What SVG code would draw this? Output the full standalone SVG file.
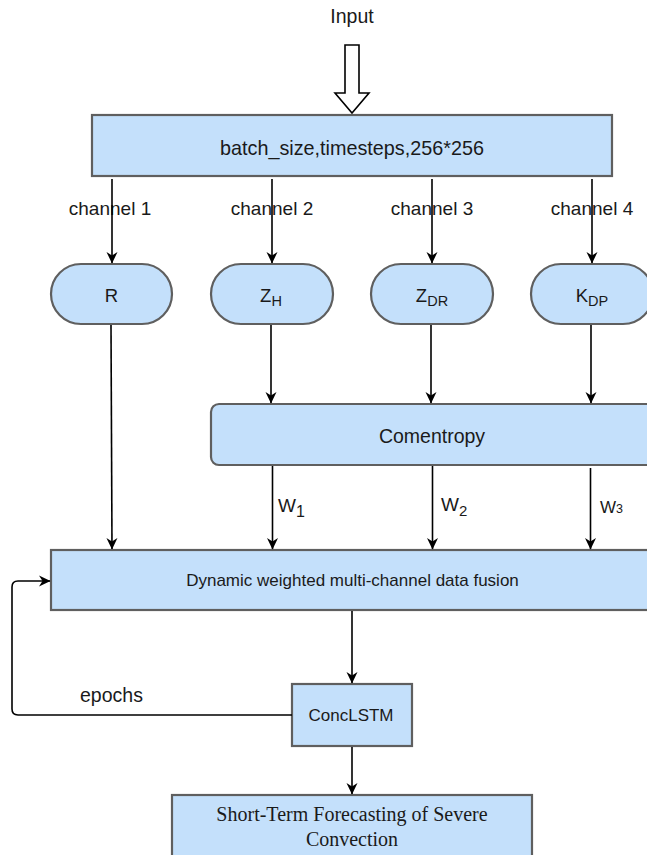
<svg xmlns="http://www.w3.org/2000/svg" width="647" height="855" viewBox="0 0 647 855">
<defs>
<style>
.box{fill:#c4e0fb;stroke:#5f5f5f;stroke-width:2.2}
.t{font-family:"Liberation Sans",Arial,sans-serif;fill:#1a1a1a}
.serif{font-family:"Liberation Serif","Times New Roman",serif;fill:#1a1a1a}
.edge{fill:none;stroke:#000;stroke-width:1.6}
</style>
<marker id="arr" viewBox="0 0 12 12" refX="11" refY="6" markerWidth="12" markerHeight="12" markerUnits="userSpaceOnUse" orient="auto">
<path d="M0,0.5 L11.5,6 L0,11.5 L3.5,6 Z" fill="#000"/>
</marker>
</defs>
<rect width="647" height="855" fill="#fff"/>

<text class="t" x="352" y="23" font-size="19.5" text-anchor="middle">Input</text>
<path d="M345,45 L359,45 L359,93 L369,93 L352,113 L335,93 L345,93 Z" fill="#fff" stroke="#000" stroke-width="1.6"/>

<g id="input-box">
<rect class="box" x="92" y="115" width="520" height="61"/>
<text class="t" x="352" y="155" font-size="19.8" text-anchor="middle">batch_size,timesteps,256*256</text>
</g>

<g id="node-R">
<rect class="box" x="51" y="264" width="121" height="60" rx="30"/>
<text class="t" x="111.5" y="302" font-size="18.5" text-anchor="middle">R</text>
</g>
<g id="node-ZH">
<rect class="box" x="211" y="264" width="122" height="60" rx="30"/>
<text class="t" x="271" y="302" font-size="18.5" text-anchor="middle">Z<tspan font-size="14.5" dy="4">H</tspan></text>
</g>
<g id="node-ZDR">
<rect class="box" x="371" y="264" width="122" height="60" rx="30"/>
<text class="t" x="432" y="302" font-size="18.5" text-anchor="middle">Z<tspan font-size="14.5" dy="4">DR</tspan></text>
</g>
<g id="node-KDP">
<rect class="box" x="531" y="264" width="122" height="60" rx="30"/>
<text class="t" x="592" y="302" font-size="18.5" text-anchor="middle">K<tspan font-size="14.5" dy="4">DP</tspan></text>
</g>

<g id="node-comentropy">
<rect class="box" x="211" y="404" width="450" height="61" rx="8"/>
<text class="t" x="432" y="443" font-size="19.5" text-anchor="middle">Comentropy</text>
</g>

<g id="node-fusion">
<rect class="box" x="51" y="550" width="610" height="60"/>
<text class="t" x="352.5" y="586" font-size="17" text-anchor="middle">Dynamic weighted multi-channel data fusion</text>
</g>

<g id="node-concLSTM">
<rect class="box" x="292" y="684" width="120" height="62"/>
<text class="t" x="351" y="721" font-size="17" text-anchor="middle">ConcLSTM</text>
</g>

<g id="node-output">
<rect class="box" x="172" y="795" width="360" height="70"/>
<text class="serif" x="352" y="821" font-size="20" text-anchor="middle">Short-Term Forecasting of Severe</text>
<text class="serif" x="352" y="846" font-size="20" text-anchor="middle">Convection</text>
</g>

<g id="connectors">
<text class="t" x="110" y="215" font-size="19" text-anchor="middle">channel 1</text>
<text class="t" x="272" y="215" font-size="19" text-anchor="middle">channel 2</text>
<text class="t" x="432" y="215" font-size="19" text-anchor="middle">channel 3</text>
<text class="t" x="592" y="215" font-size="19" text-anchor="middle">channel 4</text>
<line class="edge" x1="112" y1="179" x2="112" y2="263" marker-end="url(#arr)"/>
<line class="edge" x1="272" y1="179" x2="272" y2="263" marker-end="url(#arr)"/>
<line class="edge" x1="432" y1="179" x2="432" y2="263" marker-end="url(#arr)"/>
<line class="edge" x1="592" y1="179" x2="592" y2="263" marker-end="url(#arr)"/>

<line class="edge" x1="111" y1="325" x2="112" y2="549" marker-end="url(#arr)"/>
<line class="edge" x1="271" y1="325" x2="271" y2="403" marker-end="url(#arr)"/>
<line class="edge" x1="431" y1="325" x2="431" y2="403" marker-end="url(#arr)"/>
<line class="edge" x1="591" y1="325" x2="591" y2="403" marker-end="url(#arr)"/>

<line class="edge" x1="272.5" y1="466" x2="272.5" y2="549" marker-end="url(#arr)"/>
<line class="edge" x1="432.5" y1="466" x2="432.5" y2="549" marker-end="url(#arr)"/>
<line class="edge" x1="590.5" y1="468" x2="590.5" y2="549" marker-end="url(#arr)"/>
<text class="t" x="278" y="512" font-size="19">W<tspan font-size="16" dy="5">1</tspan></text>
<text class="t" x="441" y="511" font-size="19">W<tspan font-size="15" dy="5">2</tspan></text>
<text class="t" x="600" y="513" font-size="17">W<tspan font-size="12.5">3</tspan></text>

<line class="edge" x1="352" y1="611" x2="352" y2="683" marker-end="url(#arr)"/>
<line class="edge" x1="352" y1="747" x2="352" y2="794" marker-end="url(#arr)"/>

<path class="edge" d="M292,715 L18,715 Q12,715 12,709 L12,587 Q12,581 18,581 L50,581" marker-end="url(#arr)"/>
<text class="t" x="80" y="702" font-size="19.5">epochs</text>
</g>
</svg>
